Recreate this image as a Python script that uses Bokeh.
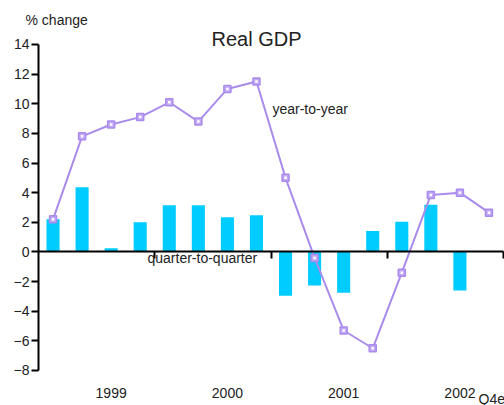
from bokeh.plotting import figure
from bokeh.models import Range1d, LinearAxis, FixedTicker, Label, ColumnDataSource
from bokeh.embed import file_html
from bokeh.resources import INLINE

quarters = ["1999Q1", "1999Q2", "1999Q3", "1999Q4",
            "2000Q1", "2000Q2", "2000Q3", "2000Q4",
            "2001Q1", "2001Q2", "2001Q3", "2001Q4",
            "2002Q1", "2002Q2", "2002Q3", "2002Q4"]
year_to_year = [2.2, 7.8, 8.6, 9.1, 10.1, 8.8, 11.0, 11.5,
                5.0, -0.4, -5.3, -6.5, -1.4, 3.85, 4.0, 2.65]
quarter_to_quarter = [2.2, 4.37, 0.25, 2.0, 3.15, 3.15, 2.34, 2.48,
                      -2.95, -2.27, -2.75, 1.42, 2.03, 3.18, -2.6, float("nan")]
year_labels = ["1999", "2000", "2001", "2002"]
y_ticks = [-8, -6, -4, -2, 0, 2, 4, 6, 8, 10, 12, 14]

FONT = "Liberation Sans"
BAR = "#00CCFF"
LINE = "#A98BEB"
TXT = "#222222"

n = len(quarters)
pos = list(range(n))
src = ColumnDataSource(dict(x=pos, yoy=year_to_year, qoq=quarter_to_quarter))

# frame covers the whole canvas; axes are placed at fixed locations inside it
p = figure(width=504, height=405, output_backend="svg", toolbar_location=None,
           x_range=Range1d(-1.8075, 15.534), y_range=Range1d(-10.362, 16.969),
           x_axis_type=None, y_axis_type=None,
           min_border_left=0, min_border_right=0, min_border_top=0, min_border_bottom=0)
p.outline_line_color = None
p.xgrid.visible = False
p.ygrid.visible = False
p.background_fill_color = "white"
p.border_fill_color = "white"

# y axis
yax = LinearAxis(ticker=FixedTicker(ticks=y_ticks), fixed_location=-0.5, bounds=(-8, 14))
yax.axis_line_width = 2
yax.axis_line_color = "black"
yax.major_tick_line_width = 2
yax.major_tick_out = 7
yax.major_tick_in = 0
yax.minor_tick_line_color = None
yax.major_label_standoff = 2
yax.major_label_text_font = FONT
yax.major_label_text_font_size = "14px"
yax.major_label_text_color = TXT
p.add_layout(yax, "left")

# zero-line axis with year boundary ticks
zax = LinearAxis(ticker=FixedTicker(ticks=[3.5, 7.5, 11.5, 15.5]), fixed_location=0,
                 bounds=(-0.5, n - 0.5))
zax.axis_line_width = 2
zax.axis_line_color = "black"
zax.major_tick_line_width = 2
zax.major_tick_out = 7
zax.major_tick_in = 0
zax.minor_tick_line_color = None
zax.major_label_text_color = None
p.add_layout(zax, "below")

# year labels
ticks_y = [2, 6, 10, 14]
xax = LinearAxis(ticker=FixedTicker(ticks=ticks_y), fixed_location=-8,
                 major_label_overrides={t: lab for t, lab in zip(ticks_y, year_labels)})
xax.axis_line_color = None
xax.major_tick_line_color = None
xax.minor_tick_line_color = None
xax.major_label_standoff = 12
xax.major_label_text_font = FONT
xax.major_label_text_font_size = "14px"
xax.major_label_text_color = TXT
p.add_layout(xax, "below")

p.vbar(x="x", top="qoq", bottom=0, width=0.45, source=src,
       fill_color=BAR, line_color=None)
p.line(x="x", y="yoy", source=src, line_color=LINE, line_width=2)
p.scatter(x="x", y="yoy", source=src, marker="square", size=7,
          fill_color="#C2A8F5", line_color=LINE, line_width=1.5)
p.scatter(x="x", y="yoy", source=src, marker="square", size=2.5,
          fill_color="white", line_color=None)

def lab(x, y, text, size="14px", align="left", baseline="alphabetic"):
    p.add_layout(Label(x=x, y=y, text=text, text_font=FONT, text_font_size=size,
                       text_color=TXT, text_align=align, text_baseline=baseline))

lab(7.0, 14.4, "Real GDP", size="20px", align="center")
lab(-0.947, 15.62, "% change")
lab(7.55, 9.68, "year-to-year")
lab(3.25, -0.44, "quarter-to-quarter")
lab(14.64, -9.4, "Q4e", baseline="top")

open("out.html", "w").write(file_html(p, INLINE))
